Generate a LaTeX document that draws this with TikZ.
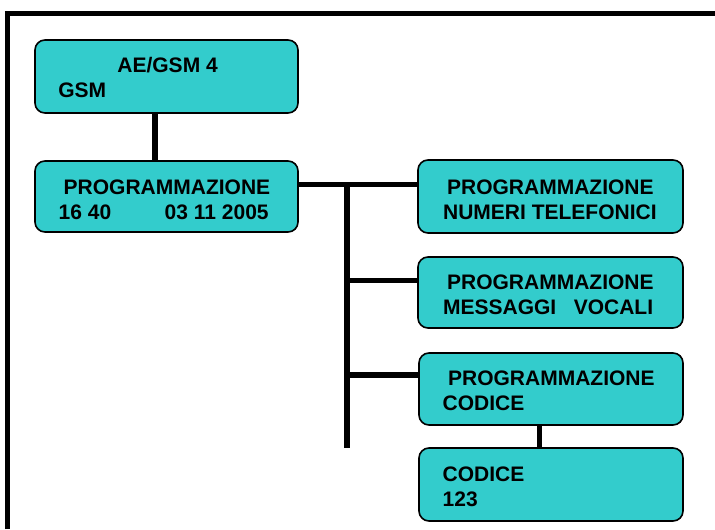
\documentclass[tikz,border=0pt]{standalone}
\usepackage{fontspec}
\setmainfont{Liberation Sans}
\definecolor{boxfill}{HTML}{33CCCC}
\tikzset{
  box/.style={draw=black, line width=0.8pt, fill=boxfill, rounded corners=5pt, rectangle, inner sep=0pt},
  conn/.style={line width=2.6pt, draw=black},
  frameline/.style={line width=2.6pt, draw=black},
  lbl/.style={anchor=base west, inner sep=0pt, font=\bfseries\fontsize{10.5}{12.5}\selectfont},
}
\begin{document}
\begin{tikzpicture}[x=0.5pt,y=-0.5pt]
\useasboundingbox (0,0) rectangle (715,529);
% frame
\coordinate (fbl) at (7.5,529);
\coordinate (ftl) at (7.5,13.5);
\coordinate (ftr) at (715,13.5);
\draw[frameline] (fbl) -- ([yshift=1.3pt]ftl) ([xshift=-1.3pt]ftl) -- (ftr);
% boxes
\node[box, minimum width=131.5pt, minimum height=36.5pt] (a) at (166.5,76.5) {};
\node[box, minimum width=131.5pt, minimum height=35.5pt] (b) at (166.5,196.5) {};
\node[box, minimum width=132.5pt, minimum height=36.5pt] (n) at (550.5,196.5) {};
\node[box, minimum width=132.5pt, minimum height=35.5pt] (m) at (550.5,292.5) {};
\node[box, minimum width=132pt, minimum height=36pt] (p) at (551,389) {};
\node[box, minimum width=132pt, minimum height=36.5pt] (c) at (551,484.5) {};
% connector points
\coordinate (t1) at (347,184.5);
\coordinate (t2) at (347,448);
\coordinate (tm) at (347,280.5);
\coordinate (tp) at (347,375);
% connectors
\draw[conn] ([xshift=-5.75pt]a.south) -- ([xshift=-5.75pt]b.north);
\draw[conn] (b.east |- t1) -- (n.west |- t1);
\draw[conn] (t1) -- (t2);
\draw[conn] (tm) -- (m.west |- tm);
\draw[conn] (tp) -- (p.west |- tp);
\draw[conn] ([xshift=-5.75pt]p.south) -- ([xshift=-5.75pt]c.north);
% texts
\node[lbl] (a1) at (117,72.7) {AE/GSM 4};
\node[lbl] (a2) at (58,97.3) {GSM};
\node[lbl] (b1) at (63.3,194.3) {PROGRAMMAZIONE};
\node[lbl] (b2) at (58.3,219.3) {16 40};
\node[lbl] (b3) at (164.3,219.3) {03 11 2005};
\node[lbl] (n1) at (446.7,194.3) {PROGRAMMAZIONE};
\node[lbl] (n2) at (442.7,219.3) {NUMERI TELEFONICI};
\node[lbl] (m1) at (446.7,289.3) {PROGRAMMAZIONE};
\node[lbl] (m2) at (442.7,314.3) {MESSAGGI\ \ \ VOCALI};
\node[lbl] (p1) at (447.7,385.7) {PROGRAMMAZIONE};
\node[lbl] (p2) at (442.3,410.7) {CODICE};
\node[lbl] (c1) at (442.3,481.7) {CODICE};
\node[lbl] (c2) at (442.3,506.7) {123};
\end{tikzpicture}
\end{document}
